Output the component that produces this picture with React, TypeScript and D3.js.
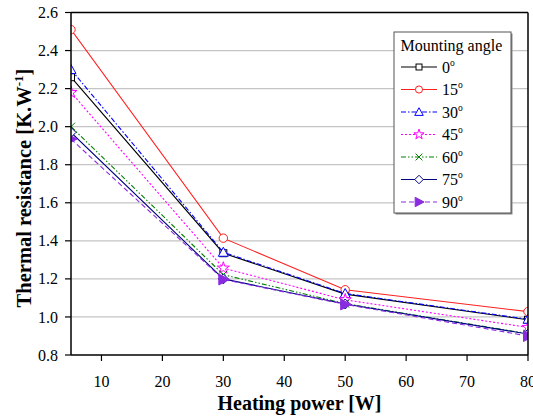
import React from "react";
import * as d3 from "d3";

const powers = [5, 30, 50, 80];
const angleLabels = ["0", "15", "30", "45", "60", "75", "90"];
const r0 = [2.26, 1.335, 1.12, 0.985];
const r15 = [2.51, 1.414, 1.143, 1.028];
const r30 = [2.3, 1.34, 1.123, 0.988];
const r45 = [2.18, 1.257, 1.09, 0.945];
const r60 = [2.0, 1.222, 1.07, 0.912];
const r75 = [1.97, 1.2, 1.068, 0.91];
const r90 = [1.935, 1.197, 1.066, 0.9];
const xTicks = [10, 20, 30, 40, 50, 60, 70, 80];
const yTicks = [0.8, 1.0, 1.2, 1.4, 1.6, 1.8, 2.0, 2.2, 2.4, 2.6];

const seriesValues = [r0, r15, r30, r45, r60, r75, r90];
const styles = [
  { color: "#000000", dash: "", marker: "square" },
  { color: "#ff2020", dash: "", marker: "circle" },
  { color: "#0000ff", dash: "5,2,1.5,2", marker: "triangle" },
  { color: "#ff00ff", dash: "2,2", marker: "star" },
  { color: "#008000", dash: "5,2,1.5,2,1.5,2", marker: "cross" },
  { color: "#000080", dash: "", marker: "diamond" },
  { color: "#8a2be2", dash: "5,3", marker: "tri-right" },
];

const W = 533, H = 418;
const L = 71, R = 528, T = 12.5, B = 355;
const x = d3.scaleLinear().domain([5, 80]).range([L, R]);
const y = d3.scaleLinear().domain([0.8, 2.6]).range([B, T]);
const font = "Liberation Serif";

function Marker({ type, cx, cy, color, k = 1 }: { type: string; cx: number; cy: number; color: string; k?: number }) {
  const s = 4 * k;
  const common = { fill: "white", stroke: color, strokeWidth: 1 };
  if (type === "square") return <rect x={cx - 3.5 * k} y={cy - 3.5 * k} width={7 * k} height={7 * k} {...common} />;
  if (type === "circle") return <circle cx={cx} cy={cy} r={4.2 * k} {...common} />;
  if (type === "triangle")
    return <path d={`M${cx},${cy - 5 * k}L${cx + 5 * k},${cy + 4 * k}L${cx - 5 * k},${cy + 4 * k}Z`} {...common} />;
  if (type === "diamond")
    return <path d={`M${cx},${cy - 5 * k}L${cx + 5 * k},${cy}L${cx},${cy + 5 * k}L${cx - 5 * k},${cy}Z`} {...common} />;
  if (type === "star") {
    const p = d3.symbol(d3.symbolStar, 45 * k * k)();
    return <path d={p as string} transform={`translate(${cx},${cy})`} {...common} />;
  }
  if (type === "cross")
    return (
      <path d={`M${cx - s},${cy - s}L${cx + s},${cy + s}M${cx - s},${cy + s}L${cx + s},${cy - s}`} stroke={color} strokeWidth={1} fill="none" />
    );
  if (type === "tri-right")
    return <path d={`M${cx - 4.5 * k},${cy - 5.5 * k}L${cx + 6 * k},${cy}L${cx - 4.5 * k},${cy + 5.5 * k}Z`} fill={color} stroke={color} strokeWidth={1} />;
  return null;
}

export default function App() {
  const line = d3
    .line<number>()
    .x((_, i) => x(powers[i]))
    .y((d) => y(d));
  const legX = 394, legY = 32, legW = 117, legH = 181;
  const rowY = (i: number) => 67 + i * 22.5;
  return (
    <svg width={W} height={H} style={{ position: "absolute", left: 0, top: 0, background: "white" }}>
      <defs>
        <clipPath id="plot">
          <rect x={L} y={T} width={R - L} height={B - T} />
        </clipPath>
      </defs>
      <rect x={0} y={0} width={W} height={H} fill="white" />
      {yTicks.slice(1, -1).map((t) => (
        <line key={t} x1={L} x2={R} y1={y(t)} y2={y(t)} stroke="#c4c4c4" strokeWidth={1.2} />
      ))}
      <g clipPath="url(#plot)">
        {seriesValues.map((vals, si) => (
          <g key={si}>
            <path d={line(vals) as string} fill="none" stroke={styles[si].color} strokeWidth={1.1} strokeDasharray={styles[si].dash} />
            {vals.map((v, i) => (
              <Marker key={i} type={styles[si].marker} cx={x(powers[i])} cy={y(v)} color={styles[si].color} />
            ))}
          </g>
        ))}
      </g>
      <line x1={L} x2={R} y1={T} y2={T} stroke="#000" strokeWidth={1.5} />
      <line x1={R} x2={R} y1={T} y2={B} stroke="#000" strokeWidth={1.5} />
      <line x1={L} x2={L} y1={T} y2={B} stroke="#000" strokeWidth={1.5} />
      <line x1={L} x2={R} y1={B} y2={B} stroke="#000" strokeWidth={1.5} />
      {yTicks.map((t) => (
        <g key={t}>
          <line x1={L - 6} x2={L} y1={y(t)} y2={y(t)} stroke="#000" strokeWidth={1.2} />
          <text x={58} y={y(t)} dy="0.35em" textAnchor="end" fontFamily={font} fontSize={16} fill="#000">
            {t.toFixed(1)}
          </text>
        </g>
      ))}
      {xTicks.map((t) => (
        <g key={t}>
          <line x1={x(t)} x2={x(t)} y1={B} y2={B + 6} stroke="#000" strokeWidth={1.2} />
          <text x={x(t)} y={387} textAnchor="middle" fontFamily={font} fontSize={16} fill="#000">
            {t}
          </text>
        </g>
      ))}
      <text x={(L + R) / 2} y={410} textAnchor="middle" fontFamily={font} fontSize={20} fontWeight="bold" fill="#000">
        Heating power [W]
      </text>
      <text transform={`translate(31,188) rotate(-90)`} textAnchor="middle" fontFamily={font} fontSize={20.5} fontWeight="bold" fill="#000">
        Thermal resistance [K.W<tspan dy={-8} fontSize={13}>-1</tspan><tspan dy={8}>]</tspan>
      </text>
      <rect x={legX + 1.5} y={legY + 1.5} width={legW} height={legH} fill="#888" />
      <rect x={legX} y={legY} width={legW} height={legH} fill="white" stroke="#555" strokeWidth={1} />
      <text x={400.5} y={50.5} fontFamily={font} fontSize={16} fill="#000">
        Mounting angle
      </text>
      {angleLabels.map((a, i) => (
        <g key={a}>
          <line x1={401} x2={437} y1={rowY(i)} y2={rowY(i)} stroke={styles[i].color} strokeWidth={1.1} strokeDasharray={styles[i].dash} />
          <Marker type={styles[i].marker} cx={419} cy={rowY(i)} color={styles[i].color} k={0.85} />
          <text x={442} y={rowY(i) + 5.5} fontFamily={font} fontSize={16} fill="#000">
            {a}
            <tspan dy={-7} fontSize={9.5}>o</tspan>
          </text>
        </g>
      ))}
    </svg>
  );
}
